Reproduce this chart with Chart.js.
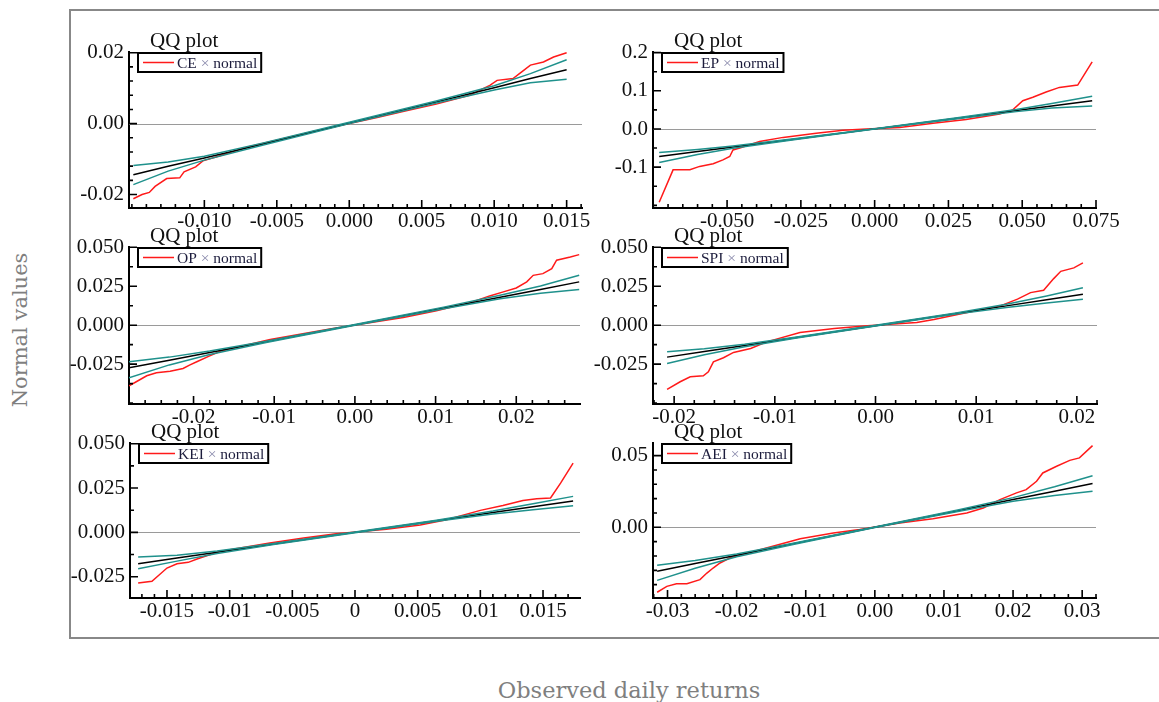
<!DOCTYPE html>
<html>
<head>
<meta charset="utf-8">
<script src="https://cdn.jsdelivr.net/npm/chart.js@4.4.0/dist/chart.umd.min.js"></script>
<style>
  body { margin: 0; background: #fff; width: 1159px; height: 702px; position: relative; overflow: hidden; }
  #frame { position: absolute; left: 69px; top: 9px; width: 1100px; height: 626px;
           border-left: 2px solid #888; border-top: 2px solid #888; border-bottom: 2px solid #888; }
  canvas { position: absolute; }
  .axlab { position: absolute; font: 22.5px 'DejaVu Serif', serif; color: #7f7f7f; white-space: nowrap; }
  #ylab { left: 20px; top: 330px; transform: translate(-50%, -50%) rotate(-90deg); font-size: 21px; }
  #xlab { left: 629px; top: 690px; transform: translate(-50%, -50%); }
</style>
</head>
<body>
<div id="frame"></div>
<div id="ylab" class="axlab">Normal values</div>
<div id="xlab" class="axlab">Observed daily returns</div>
<canvas id="c0"></canvas><canvas id="c1"></canvas><canvas id="c2"></canvas>
<canvas id="c3"></canvas><canvas id="c4"></canvas><canvas id="c5"></canvas>
<script>
// ---- CE ----
const ceObsX = [-0.0149, -0.0143, -0.0138, -0.0134, -0.0126, -0.0117, -0.0114, -0.0106, -0.0101, -0.0092, -0.0070, -0.0048, -0.0025, 0.0000, 0.0020, 0.0037, 0.0060, 0.0083, 0.0097, 0.0102, 0.0113, 0.0119, 0.0125, 0.0134, 0.0141, 0.0150];
const ceObsY = [-0.0212, -0.0200, -0.0194, -0.0177, -0.0155, -0.0153, -0.0136, -0.0122, -0.0105, -0.0094, -0.0066, -0.0045, -0.0022, 0.0000, 0.0018, 0.0034, 0.0055, 0.0080, 0.0108, 0.0122, 0.0127, 0.0146, 0.0165, 0.0174, 0.0188, 0.0200];
const ceBandX = [-0.0149, -0.0125, -0.0100, -0.0060, 0.0000, 0.0060, 0.0100, 0.0125, 0.0150];
const ceRefY  = [-0.0144, -0.0120, -0.0097, -0.0058, 0.0002, 0.0061, 0.0101, 0.0127, 0.0152];
const ceHiY   = [-0.0118, -0.0108, -0.0092, -0.0055, 0.0004, 0.0064, 0.0107, 0.0141, 0.0180];
const ceLoY   = [-0.0172, -0.0134, -0.0103, -0.0061, 0.0000, 0.0058, 0.0095, 0.0115, 0.0125];
const ceXTicks = ['-0.010', '-0.005', '0.000', '0.005', '0.010', '0.015'];
const ceYTicks = ['-0.02', '0.00', '0.02'];

// ---- EP ----
const epObsX = [-0.0730, -0.0683, -0.0626, -0.0593, -0.0547, -0.0514, -0.0491, -0.0480, -0.0457, -0.0390, -0.0310, -0.0198, -0.0107, -0.0028, 0.0085, 0.0198, 0.0310, 0.0367, 0.0423, 0.0468, 0.0502, 0.0536, 0.0581, 0.0626, 0.0688, 0.0737];
const epObsY = [-0.192, -0.107, -0.107, -0.098, -0.091, -0.081, -0.072, -0.055, -0.050, -0.033, -0.022, -0.011, -0.003, 0.000, 0.004, 0.015, 0.025, 0.032, 0.039, 0.050, 0.074, 0.083, 0.097, 0.109, 0.115, 0.176];
const epBandX = [-0.0730, -0.0600, -0.0480, -0.0280, 0.0000, 0.0280, 0.0480, 0.0600, 0.0737];
const epRefY  = [-0.0722, -0.0592, -0.0472, -0.0274, 0.0003, 0.0283, 0.0482, 0.0602, 0.0739];
const epHiY   = [-0.0617, -0.0535, -0.0445, -0.0262, 0.0008, 0.0296, 0.0512, 0.0665, 0.0860];
const epLoY   = [-0.0878, -0.0670, -0.0505, -0.0288, -0.0002, 0.0270, 0.0455, 0.0548, 0.0600];
const epXTicks = ['-0.050', '-0.025', '0.000', '0.025', '0.050', '0.075'];
const epYTicks = ['-0.1', '0.0', '0.1', '0.2'];

// ---- OP ----
const opObsX = [-0.0280, -0.0271, -0.0258, -0.0246, -0.0229, -0.0213, -0.0205, -0.0196, -0.0180, -0.0167, -0.0105, -0.0031, 0.0030, 0.0060, 0.0101, 0.0143, 0.0167, 0.0184, 0.0200, 0.0213, 0.0221, 0.0233, 0.0244, 0.0250, 0.0267, 0.0278];
const opObsY = [-0.0389, -0.0363, -0.0325, -0.0306, -0.0295, -0.0278, -0.0256, -0.0235, -0.0197, -0.0167, -0.0092, -0.0025, 0.0026, 0.0050, 0.0092, 0.0145, 0.0188, 0.0214, 0.0239, 0.0278, 0.0320, 0.0331, 0.0363, 0.0417, 0.0438, 0.0453];
const opBandX = [-0.0280, -0.0230, -0.0180, -0.0110, 0.0000, 0.0110, 0.0180, 0.0230, 0.0278];
const opRefY  = [-0.0274, -0.0225, -0.0176, -0.0107, 0.0002, 0.0111, 0.0180, 0.0229, 0.0278];
const opHiY   = [-0.0235, -0.0205, -0.0166, -0.0103, 0.0004, 0.0116, 0.0192, 0.0252, 0.0320];
const opLoY   = [-0.0338, -0.0255, -0.0188, -0.0111, 0.0000, 0.0106, 0.0170, 0.0205, 0.0229];
const opXTicks = ['-0.02', '-0.01', '0.00', '0.01', '0.02'];
const opYTicks = ['-0.025', '0.000', '0.025', '0.050'];

// ---- SPI ----
const spiObsX = [-0.0207, -0.0194, -0.0184, -0.0171, -0.0166, -0.0161, -0.0151, -0.0141, -0.0124, -0.0108, -0.0075, -0.0041, -0.0008, 0.0041, 0.0058, 0.0091, 0.0124, 0.0141, 0.0154, 0.0167, 0.0177, 0.0184, 0.0197, 0.0206];
const spiObsY = [-0.0412, -0.0363, -0.0331, -0.0325, -0.0299, -0.0235, -0.0209, -0.0175, -0.0150, -0.0107, -0.0047, -0.0021, -0.0004, 0.0017, 0.0036, 0.0081, 0.0124, 0.0167, 0.0209, 0.0224, 0.0299, 0.0346, 0.0368, 0.0400];
const spiBandX = [-0.0207, -0.0170, -0.0130, -0.0080, 0.0000, 0.0080, 0.0130, 0.0170, 0.0206];
const spiRefY  = [-0.0205, -0.0169, -0.0130, -0.0081, -0.0003, 0.0075, 0.0124, 0.0163, 0.0199];
const spiHiY   = [-0.0171, -0.0151, -0.0122, -0.0078, -0.0001, 0.0079, 0.0134, 0.0188, 0.0241];
const spiLoY   = [-0.0246, -0.0190, -0.0139, -0.0084, -0.0005, 0.0071, 0.0114, 0.0143, 0.0167];
const spiXTicks = ['-0.02', '-0.01', '0.00', '0.01', '0.02'];
const spiYTicks = ['-0.025', '0.000', '0.025', '0.050'];

// ---- KEI ----
const keiObsX = [-0.0173, -0.0162, -0.0150, -0.0142, -0.0133, -0.0126, -0.0116, -0.0108, -0.0068, -0.0041, -0.0015, 0.0025, 0.0052, 0.0073, 0.0100, 0.0118, 0.0134, 0.0145, 0.0156, 0.0164, 0.0174];
const keiObsY = [-0.0286, -0.0276, -0.0201, -0.0177, -0.0169, -0.0150, -0.0126, -0.0107, -0.0060, -0.0032, -0.0008, 0.0018, 0.0042, 0.0071, 0.0124, 0.0152, 0.0180, 0.0190, 0.0194, 0.0278, 0.0391];
const keiBandX = [-0.0173, -0.0142, -0.0110, -0.0065, 0.0000, 0.0065, 0.0110, 0.0142, 0.0174];
const keiRefY  = [-0.0177, -0.0145, -0.0112, -0.0066, 0.0000, 0.0066, 0.0112, 0.0145, 0.0177];
const keiHiY   = [-0.0139, -0.0129, -0.0105, -0.0063, 0.0002, 0.0069, 0.0120, 0.0162, 0.0203];
const keiLoY   = [-0.0205, -0.0162, -0.0119, -0.0069, -0.0002, 0.0063, 0.0104, 0.0128, 0.0150];
const keiXTicks = ['-0.015', '-0.01', '-0.005', '0', '0.005', '0.01', '0.015'];
const keiYTicks = ['-0.025', '0.000', '0.025', '0.050'];

// ---- AEI ----
const aeiObsX = [-0.0315, -0.0301, -0.0287, -0.0272, -0.0253, -0.0243, -0.0234, -0.0224, -0.0210, -0.0108, -0.0060, -0.0022, 0.0036, 0.0084, 0.0133, 0.0157, 0.0181, 0.0205, 0.0219, 0.0234, 0.0243, 0.0263, 0.0282, 0.0296, 0.0315];
const aeiObsY = [-0.0453, -0.0412, -0.0393, -0.0393, -0.0365, -0.0319, -0.0284, -0.0249, -0.0214, -0.0080, -0.0040, -0.0016, 0.0030, 0.0060, 0.0100, 0.0135, 0.0193, 0.0240, 0.0263, 0.0321, 0.0379, 0.0426, 0.0467, 0.0484, 0.0570];
const aeiBandX = [-0.0315, -0.0260, -0.0200, -0.0120, 0.0000, 0.0120, 0.0200, 0.0260, 0.0315];
const aeiRefY  = [-0.0307, -0.0253, -0.0195, -0.0117, 0.0000, 0.0116, 0.0194, 0.0252, 0.0305];
const aeiHiY   = [-0.0265, -0.0232, -0.0186, -0.0113, 0.0002, 0.0121, 0.0207, 0.0283, 0.0360];
const aeiLoY   = [-0.0370, -0.0285, -0.0206, -0.0121, -0.0002, 0.0111, 0.0182, 0.0222, 0.0251];
const aeiXTicks = ['-0.03', '-0.02', '-0.01', '0.00', '0.01', '0.02', '0.03'];
const aeiYTicks = ['0.00', '0.05'];

// plot box in page pixels, axis ranges, minor tick steps
const panels = [
  { name: 'CE',  box: [129, 52, 582, 208],  xr: [-0.0152, 0.01606], yr: [-0.0238, 0.0202], xs: 0.001, ys: 0.004,
    obs: [ceObsX, ceObsY], band: [ceBandX, ceRefY, ceHiY, ceLoY], ticks: [ceXTicks, ceYTicks] },
  { name: 'EP',  box: [653, 52, 1096, 208], xr: [-0.0751, 0.0750], yr: [-0.207, 0.2017], xs: 0.005, ys: 0.05,
    obs: [epObsX, epObsY], band: [epBandX, epRefY, epHiY, epLoY], ticks: [epXTicks, epYTicks] },
  { name: 'OP',  box: [129, 247, 580, 404], xr: [-0.0280, 0.0279], yr: [-0.0506, 0.0502], xs: 0.002, ys: 0.0125,
    obs: [opObsX, opObsY], band: [opBandX, opRefY, opHiY, opLoY], ticks: [opXTicks, opYTicks] },
  { name: 'SPI', box: [653, 247, 1097, 404], xr: [-0.0221, 0.0220], yr: [-0.0506, 0.0502], xs: 0.002, ys: 0.0125,
    obs: [spiObsX, spiObsY], band: [spiBandX, spiRefY, spiHiY, spiLoY], ticks: [spiXTicks, spiYTicks] },
  { name: 'KEI', box: [130, 443, 580, 598], xr: [-0.01795, 0.01795], yr: [-0.0370, 0.0504], xs: 0.001, ys: 0.0125,
    obs: [keiObsX, keiObsY], band: [keiBandX, keiRefY, keiHiY, keiLoY], ticks: [keiXTicks, keiYTicks] },
  { name: 'AEI', box: [653, 443, 1096, 598], xr: [-0.0321, 0.0320], yr: [-0.0493, 0.0588], xs: 0.002, ys: 0.01,
    obs: [aeiObsX, aeiObsY], band: [aeiBandX, aeiRefY, aeiHiY, aeiLoY], ticks: [aeiXTicks, aeiYTicks] }
];

const PAD_L = 60, PAD_T = 28, PAD_R = 40, PAD_B = 32;

function pts(xs, ys) { return xs.map((x, i) => ({ x: x, y: ys[i] })); }

// zero line, inward ticks, title and legend box
const qqDecor = {
  id: 'qqDecor',
  beforeDatasetsDraw(chart) {
    const { ctx, chartArea: a, scales: { y } } = chart;
    const py = Math.round(y.getPixelForValue(0)) + 0.5;
    ctx.save();
    ctx.strokeStyle = '#9a9a9a';
    ctx.lineWidth = 1.2;
    ctx.beginPath(); ctx.moveTo(a.left, py); ctx.lineTo(a.right, py); ctx.stroke();
    ctx.restore();
  },
  afterDraw(chart, args, o) {
    const { ctx, chartArea: a, scales: { x, y } } = chart;
    ctx.save();
    ctx.strokeStyle = '#000';
    ctx.lineWidth = 1.6;
    const isMajor = (list, v) => list.some(m => Math.abs(parseFloat(m) - v) < 1e-9);
    ctx.beginPath();
    const kx0 = Math.ceil(x.min / o.xs - 1e-6), kx1 = Math.floor(x.max / o.xs + 1e-6);
    for (let k = kx0; k <= kx1; k++) {
      const v = k * o.xs;
      const px = x.getPixelForValue(v);
      const len = isMajor(o.xt, v) ? 8 : 4;
      ctx.moveTo(px, a.bottom); ctx.lineTo(px, a.bottom - len);
    }
    const ky0 = Math.ceil(y.min / o.ys - 1e-6), ky1 = Math.floor(y.max / o.ys + 1e-6);
    for (let k = ky0; k <= ky1; k++) {
      const v = k * o.ys;
      const py = y.getPixelForValue(v);
      const len = isMajor(o.yt, v) ? 8 : 4;
      ctx.moveTo(a.left, py); ctx.lineTo(a.left + len, py);
    }
    ctx.stroke();

    // title
    ctx.fillStyle = '#111';
    ctx.font = '21px "Liberation Serif"';
    ctx.textBaseline = 'alphabetic';
    ctx.fillText('QQ plot', a.left + 21, a.top - 5);

    // legend
    ctx.font = '15.5px "Liberation Serif"';
    const parts = [[o.name, '#1c1c3c'], [' \u00d7 ', '#8a8aac'], ['normal', '#1c1c3c']];
    const tw = parts.reduce((s, p) => s + ctx.measureText(p[0]).width, 0);
    const bx = a.left + 9, by = a.top + 1, bh = 19, bw = 39 + tw + 4;
    ctx.fillStyle = '#fff';
    ctx.fillRect(bx, by, bw, bh);
    ctx.lineWidth = 2;
    ctx.strokeStyle = '#000';
    ctx.strokeRect(bx, by, bw, bh);
    ctx.strokeStyle = '#ff1a1a';
    ctx.lineWidth = 1.5;
    ctx.beginPath(); ctx.moveTo(bx + 5, by + bh / 2); ctx.lineTo(bx + 36, by + bh / 2); ctx.stroke();
    ctx.textBaseline = 'middle';
    let tx = bx + 39;
    parts.forEach(p => { ctx.fillStyle = p[1]; ctx.fillText(p[0], tx, by + bh / 2 + 1); tx += ctx.measureText(p[0]).width; });
    ctx.restore();
  }
};

Chart.defaults.font.family = '"Liberation Serif", serif';
Chart.defaults.color = '#111';

panels.forEach((p, i) => {
  const [L, T, R, B] = p.box;
  const cv = document.getElementById('c' + i);
  cv.width = R - L + PAD_L + PAD_R;
  cv.height = B - T + PAD_T + PAD_B;
  cv.style.left = (L - PAD_L) + 'px';
  cv.style.top = (T - PAD_T) + 'px';
  const [xt, yt] = p.ticks;
  const line = (data, color, w) => ({ data: data, showLine: true, borderColor: color, borderWidth: w, pointRadius: 0, fill: false, tension: 0 });
  new Chart(cv, {
    type: 'scatter',
    data: {
      datasets: [
        line(pts(p.band[0], p.band[2]), '#1f918c', 1.5),
        line(pts(p.band[0], p.band[3]), '#1f918c', 1.5),
        line(pts(p.band[0], p.band[1]), '#000000', 1.5),
        line(pts(p.obs[0], p.obs[1]), '#ff1a1a', 1.5)
      ]
    },
    options: {
      responsive: false,
      animation: false,
      devicePixelRatio: 1,
      layout: { padding: { top: PAD_T, right: PAD_R, left: 0, bottom: 0 } },
      plugins: {
        legend: { display: false },
        tooltip: { enabled: false },
        qqDecor: { name: p.name, xs: p.xs, ys: p.ys, xt: xt, yt: yt }
      },
      scales: {
        x: {
          type: 'linear', min: p.xr[0], max: p.xr[1],
          afterBuildTicks: s => { s.ticks = xt.map(t => ({ value: parseFloat(t) })); },
          afterFit: s => { s.height = PAD_B; },
          ticks: { autoSkip: false, maxRotation: 0, padding: 1, font: { size: 21 }, color: '#111',
                   callback: (v, idx) => xt[idx] },
          grid: { drawOnChartArea: false, drawTicks: false },
          border: { display: true, color: '#000', width: 2 }
        },
        y: {
          type: 'linear', min: p.yr[0], max: p.yr[1],
          afterBuildTicks: s => { s.ticks = yt.map(t => ({ value: parseFloat(t) })); },
          afterFit: s => { s.width = PAD_L; },
          ticks: { autoSkip: false, padding: 5, font: { size: 21 }, color: '#111',
                   callback: (v, idx) => yt[idx] },
          grid: { drawOnChartArea: false, drawTicks: false },
          border: { display: true, color: '#000', width: 2 }
        }
      }
    },
    plugins: [qqDecor]
  });
});
</script>
</body>
</html>
